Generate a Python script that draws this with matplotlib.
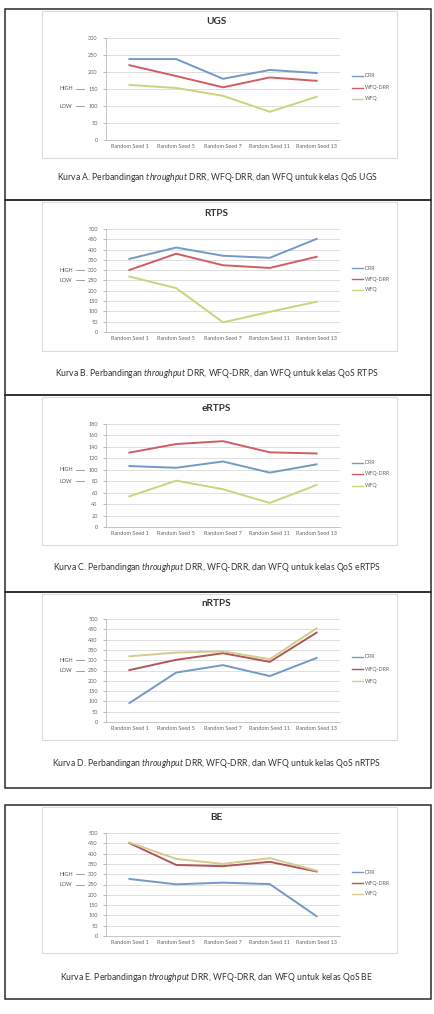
import matplotlib
matplotlib.use("Agg")
import matplotlib.pyplot as plt
from matplotlib.patches import Rectangle
from matplotlib.lines import Line2D
from matplotlib.transforms import blended_transform_factory

plt.rcParams['font.family'] = ['Lato', 'DejaVu Sans']
plt.rcParams['mathtext.fontset'] = 'custom'
plt.rcParams['mathtext.rm'] = 'Lato'
plt.rcParams['mathtext.it'] = 'Lato:italic'

# ---------------- data ----------------
categories = ["Random Seed 1", "Random Seed 5", "Random Seed 7", "Random Seed 11", "Random Seed 13"]
series_names = ["DRR", "WFQ-DRR", "WFQ"]

ugs_drr = [238, 238, 180, 206, 197]
ugs_wfqdrr = [220, 188, 155, 184, 174]
ugs_wfq = [162, 153, 130, 83, 127]

rtps_drr = [355, 410, 370, 360, 452]
rtps_wfqdrr = [301, 380, 324, 311, 365]
rtps_wfq = [269, 213, 47, 98, 147]

ertps_drr = [106.5, 103.5, 114.5, 95, 109.5]
ertps_wfqdrr = [130, 145, 150, 130.5, 128.5]
ertps_wfq = [53.5, 81, 66, 42, 73.5]

nrtps_drr = [92, 240, 276, 223, 311]
nrtps_wfqdrr = [252, 302, 334, 292, 434]
nrtps_wfq = [319, 337, 343, 305, 455]

be_drr = [277, 251, 259, 252, 96]
be_wfqdrr = [451, 345, 339, 360, 313]
be_wfq = [454, 374, 350, 378, 317]

titles = ["UGS", "RTPS", "eRTPS", "nRTPS", "BE"]
y_max = [300, 500, 180, 500, 500]
y_step = [50, 50, 20, 50, 50]
high_level = [150, 300, 100, 300, 300]
low_level = [100, 250, 80, 250, 250]
captions = [
    "Kurva A. Perbandingan $throughput$ DRR, WFQ-DRR, dan WFQ untuk kelas QoS UGS",
    "Kurva B. Perbandingan $throughput$ DRR, WFQ-DRR, dan WFQ untuk kelas QoS RTPS",
    "Kurva C. Perbandingan $throughput$ DRR, WFQ-DRR, dan WFQ untuk kelas QoS eRTPS",
    "Kurva D. Perbandingan $throughput$ DRR, WFQ-DRR, dan WFQ untuk kelas QoS nRTPS",
    "Kurva E. Perbandingan $throughput$ DRR, WFQ-DRR, dan WFQ untuk kelas QoS BE",
]
panel_series = [
    [ugs_drr, ugs_wfqdrr, ugs_wfq],
    [rtps_drr, rtps_wfqdrr, rtps_wfq],
    [ertps_drr, ertps_wfqdrr, ertps_wfq],
    [nrtps_drr, nrtps_wfqdrr, nrtps_wfq],
    [be_drr, be_wfqdrr, be_wfq],
]

# ---------------- layout (pixels) ----------------
W, H = 435, 1014
colors = ["#7399c6", "#cf5d62", "#c9d47c"]
colors_dark = ["#7399c6", "#b0565a", "#d6ca8c"]

boxes = [(9, 200), (200, 395), (395, 592), (592, 788), (805, 999)]
frames = [(11, 158), (202, 351), (397, 545), (594, 740), (807, 953)]
plots = [(38, 140), (229, 332), (424, 527), (619, 722), (833, 936)]
title_y = [21, 214, 408, 604, 818]
caption_y = [178, 373, 568, 763, 978]
legend_y = [(76, 88, 99), (268, 279, 290), (463, 474, 486), (657, 669, 681), (872, 883, 894)]

fig = plt.figure(figsize=(W / 100, H / 100), dpi=100)


def fx(x):
    return x / W


def fy(y):
    return 1 - y / H


for i in range(5):
    top, bot = boxes[i]
    fig.add_artist(Rectangle((fx(5), fy(bot)), fx(431) - fx(5), fy(top) - fy(bot),
                             transform=fig.transFigure, fill=False, ec="#2a2a2a", lw=1.1))
    ft, fb = frames[i]
    fig.add_artist(Rectangle((fx(42), fy(fb)), fx(397) - fx(42), fy(ft) - fy(fb),
                             transform=fig.transFigure, fill=False, ec="#dcdcdc", lw=0.8))

    pt, pb = plots[i]
    ax = fig.add_axes([fx(106), fy(pb), fx(340) - fx(106), fy(pt) - fy(pb)])
    cols = colors if i < 3 else colors_dark
    for s, name, c in zip(panel_series[i], series_names, cols):
        ax.plot(range(len(categories)), s, color=c, lw=1.4, label=name, solid_joinstyle='miter')
    ax.set_xlim(-0.5, len(categories) - 0.5)
    ax.set_ylim(0, y_max[i])
    ax.set_yticks(range(0, y_max[i] + 1, y_step[i]))
    ax.set_xticks(range(len(categories)))
    ax.set_xticklabels(categories)
    ax.tick_params(axis='both', labelsize=4.0, colors="#9a9a9a", labelcolor="#666666",
                   length=0, pad=3)
    ax.tick_params(axis='y', length=2, width=0.5, pad=4)
    ax.grid(axis='y', color="#d9d9d9", lw=0.6)
    ax.set_axisbelow(True)
    for sp in ["top", "right"]:
        ax.spines[sp].set_visible(False)
    for sp in ["left", "bottom"]:
        ax.spines[sp].set_color("#bdbdbd")
        ax.spines[sp].set_linewidth(0.6)

    fig.text(fx(216), fy(title_y[i]), titles[i], ha="center", va="center",
             fontsize=7.2, fontweight="bold", color="#333333")
    fig.text(fx(217), fy(caption_y[i]), captions[i], ha="center", va="center",
             fontsize=6.2, color="#333333")

    for name, c, ly in zip(series_names, cols, legend_y[i]):
        fig.add_artist(Line2D([fx(352), fx(363)], [fy(ly), fy(ly)], color=c, lw=1.0,
                              transform=fig.transFigure))
        fig.text(fx(365), fy(ly), name, ha="left", va="center", fontsize=3.8, color="#666666")

    tr = blended_transform_factory(fig.transFigure, ax.transData)
    for lab, lv in (("HIGH", high_level[i]), ("LOW", low_level[i])):
        fig.text(fx(59), lv, lab, transform=tr, ha="left", va="center",
                 fontsize=3.9, color="#555555")
        fig.add_artist(Line2D([fx(76), fx(84)], [lv, lv], color="#777777", lw=0.5,
                              transform=tr))

fig.savefig("out.png", dpi=100, facecolor="white")
